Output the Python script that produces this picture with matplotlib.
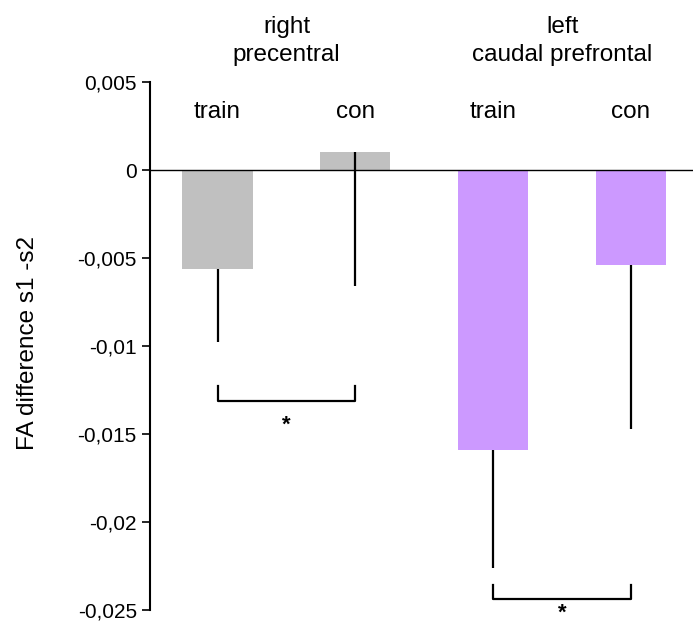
import numpy as np
import matplotlib.pyplot as plt

plt.rcParams['font.family'] = ['Liberation Sans', 'DejaVu Sans']

conditions = ['train', 'con', 'train', 'con']
region_top = ['right', 'left']
region_bottom = ['precentral', 'caudal prefrontal']
values = [-0.0056, 0.001, -0.0159, -0.0054]
errors = [0.0042, 0.0076, 0.0067, 0.0093]
colors = ['#c0c0c0', '#c0c0c0', '#cc99ff', '#cc99ff']
yticks = [0.005, 0, -0.005, -0.01, -0.015, -0.02, -0.025]
ytick_labels = ['0,005', '0', '-0,005', '-0,01', '-0,015', '-0,02', '-0,025']

x = np.arange(1, 5)

fig = plt.figure(figsize=(6.94, 6.28), dpi=100)
ax = fig.add_axes([150/694, 18/628, 543/694, 528/628])

ax.bar(x, values, width=0.51, color=colors, zorder=1)
# one-sided error bars, drawn downward from the bar end
for xi, v, e in zip(x, values, errors):
    ax.vlines(xi, v, v - e, color='black', lw=1.6, zorder=3)
ax.axhline(0, color='black', lw=1, zorder=2)

# significance brackets
def bracket(x1, x2, y, h, ystar):
    ax.plot([x1, x1, x2, x2], [y + h, y, y, y + h], color='black', lw=1.6,
            clip_on=False)
    ax.text((x1 + x2) / 2, ystar, '*', ha='center', va='center', fontsize=16,
            fontweight='bold')

bracket(1, 2, -0.0131, 0.0008, -0.0145)
bracket(3, 4, -0.0244, 0.0008, -0.0252)

for xi, c in zip(x, conditions):
    ax.text(xi, 0.00295, c, ha='center', va='baseline', fontsize=17.5)
for xc, t1, t2 in zip([1.5, 3.5], region_top, region_bottom):
    ax.text(xc, 0.0078, t1, ha='center', va='baseline', fontsize=17.5)
    ax.text(xc, 0.0062, t2, ha='center', va='baseline', fontsize=17.5)

ax.set_xlim(0.51, 4.45)
ax.set_ylim(-0.025, 0.005)
ax.set_yticks(yticks)
ax.set_yticklabels(ytick_labels, fontsize=15)
ax.set_xticks([])
ax.set_ylabel('FA difference s1 -s2', fontsize=17.5)
ax.yaxis.set_label_coords(-0.205, 0.505)
ax.tick_params(axis='y', direction='out', length=6, width=1.2)
for s in ['top', 'right', 'bottom']:
    ax.spines[s].set_visible(False)
ax.spines['left'].set_linewidth(1.5)

plt.savefig('out.png', dpi=100)
